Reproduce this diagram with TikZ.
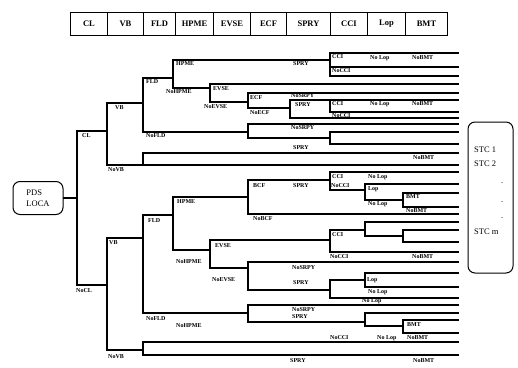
\documentclass[tikz,border=0pt]{standalone}
\usepackage{fontspec}
\setmainfont{Liberation Serif}
\usetikzlibrary{positioning}

\begin{document}
\begin{tikzpicture}[
      x=1pt, y=-1pt,
      hdr/.style={draw, line width=1pt, minimum height=23pt, inner sep=0pt,
                  anchor=north west, font=\fontsize{8.5}{9}\selectfont\bfseries},
      tline/.style={line width=1.3pt, line cap=rect},
      lbl/.style={anchor=west, inner sep=0pt, font=\fontsize{6}{6}\selectfont\bfseries},
      endbox/.style={draw, line width=1pt, rounded corners=7pt},
      stctxt/.style={anchor=west, inner sep=0pt, font=\fontsize{8.5}{9}\selectfont},
    ]
    \useasboundingbox (0,0) rectangle (518,367);
    \def\xend{458}

    % ---------- header ----------
    \foreach \nm/\xa/\xb [evaluate=\xb as \hw using \xb-\xa] in
      {CL/70/107, VB/107/143, FLD/143/175, HPME/175/213, EVSE/213/250,
       ECF/250/286, SPRY/286/330, CCI/330/367, Lop/367/405, BMT/405/447}
      \node[hdr, minimum width=\hw pt] (h\nm) at (\xa,12) {\nm};

    % ---------- initiating event ----------
    \node[endbox, minimum width=50pt, minimum height=33pt, align=left,
          font=\fontsize{8.5}{11.5}\selectfont] (pds) at (38,198) {PDS\\LOCA};
    \coordinate (root) at (77,198);
    \draw[tline] (pds.east) -- (root);

    % ---------- tree: branch points ----------
    \foreach \xx/\ya/\yb in
      {77/131/285, 107/103/165, 143/78/132, 173/60/88, 330/53/76, 210/84/102,
       248/93/108, 290/100/118, 330/100/112, 248/124/138, 330/132/144, 143/153/165,
       107/238/350, 143/215/313, 173/197/250, 248/180/214, 330/172/190, 365/184/200,
       403/193/207, 210/240/268, 330/230/252, 365/222/236, 403/230/242, 248/262/290,
       330/280/298, 365/273/287, 248/305/322, 365/313/326, 403/320/333, 143/342/355}
      \draw[tline] (\xx,\ya) -- (\xx,\yb);

    % ---------- tree: branches ----------
    \foreach \xa/\xb/\yy in
      {77/107/131, 107/143/103, 107/\xend/165, 143/173/78, 143/248/132, 173/330/60,
       330/\xend/53, 330/\xend/67, 330/\xend/76, 173/210/88, 210/\xend/84, 210/248/102,
       248/\xend/93, 248/290/108, 290/\xend/100, 330/\xend/112, 290/\xend/118,
       248/\xend/124, 248/330/138, 330/\xend/132, 330/\xend/144, 143/\xend/153,
       77/107/285, 107/143/238, 143/173/215, 173/248/197, 248/330/180, 330/\xend/172,
       330/365/190, 365/\xend/184, 365/403/200, 403/\xend/193, 403/\xend/207,
       248/\xend/214, 173/210/250, 210/330/240, 330/365/230, 365/\xend/222,
       365/403/236, 403/\xend/230, 403/\xend/242, 330/\xend/252, 210/248/268,
       248/\xend/262, 248/330/290, 330/365/280, 365/\xend/273, 365/\xend/287,
       330/\xend/298, 143/248/313, 248/\xend/305, 248/365/322, 365/\xend/313,
       365/403/326, 403/\xend/320, 403/\xend/333, 107/143/350, 143/\xend/342,
       143/\xend/355}
      \draw[tline] (\xa,\yy) -- (\xb,\yy);

    % ---------- branch labels ----------
    \foreach \xx/\yy/\tx [count=\i] in
      {82/136/CL, 115/108/VB, 108/170/NoVB, 146/82/FLD, 146/136/NoFLD,
       176/64/HPME, 166/92/NoHPME, 213/89/EVSE, 204/107/NoEVSE, 250/98/ECF,
       250/113/NoECF, 293/64/SPRY, 332/57/CCI, 370/58/No Lop, 412/58/NoBMT,
       332/71/NoCCI, 291/96/NoSRPY, 295/105/SPRY, 332/104/CCI, 370/104/No Lop,
       412/104/NoBMT, 332/116/NoCCI, 291/128/NoSRPY, 293/148/SPRY, 413/158/NoBMT,
       76/291/NoCL, 109/243/VB, 148/221/FLD, 177/202/HPME, 253/186/BCF,
       293/186/SPRY, 332/177/CCI, 368/177/No Lop, 331/186/NoCCI, 368/189/Lop,
       368/204/No Lop, 406/197/BMT, 406/211/NoBMT, 253/219/NoBCF,
       215/246/EVSE, 176/262/NoHPME, 332/235/CCI, 212/280/NoEVSE,
       330/257/NoCCI, 412/257/NoBMT, 292/268/NoSRPY, 293/283/SPRY,
       367/280/Lop, 368/292/No Lop, 362/301/No Lop, 292/310/NoSRPY,
       292/317/SPRY, 407/325/BMT, 407/338/NoBMT, 146/319/NoFLD,
       176/326/NoHPME, 330/338/NoCCI, 377/338/No Lop, 108/357/NoVB,
       290/361/SPRY, 413/361/NoBMT}
      \node[lbl] (lb\i) at (\xx,\yy) {\tx};

    % ---------- end states ----------
    \node[endbox, minimum width=45pt, minimum height=151pt] (stc) at (490.5,197.5) {};
    \node[stctxt] (stc1) at (474,150) {STC 1};
    \node[stctxt] (stc2) at (474,164) {STC 2};
    \node[stctxt] (dot1) at (501,183) {.};
    \node[stctxt] (dot2) at (501,202) {.};
    \node[stctxt] (dot3) at (501,218) {.};
    \node[stctxt] (stcm) at (474,232) {STC m};

  \end{tikzpicture}
\end{document}
